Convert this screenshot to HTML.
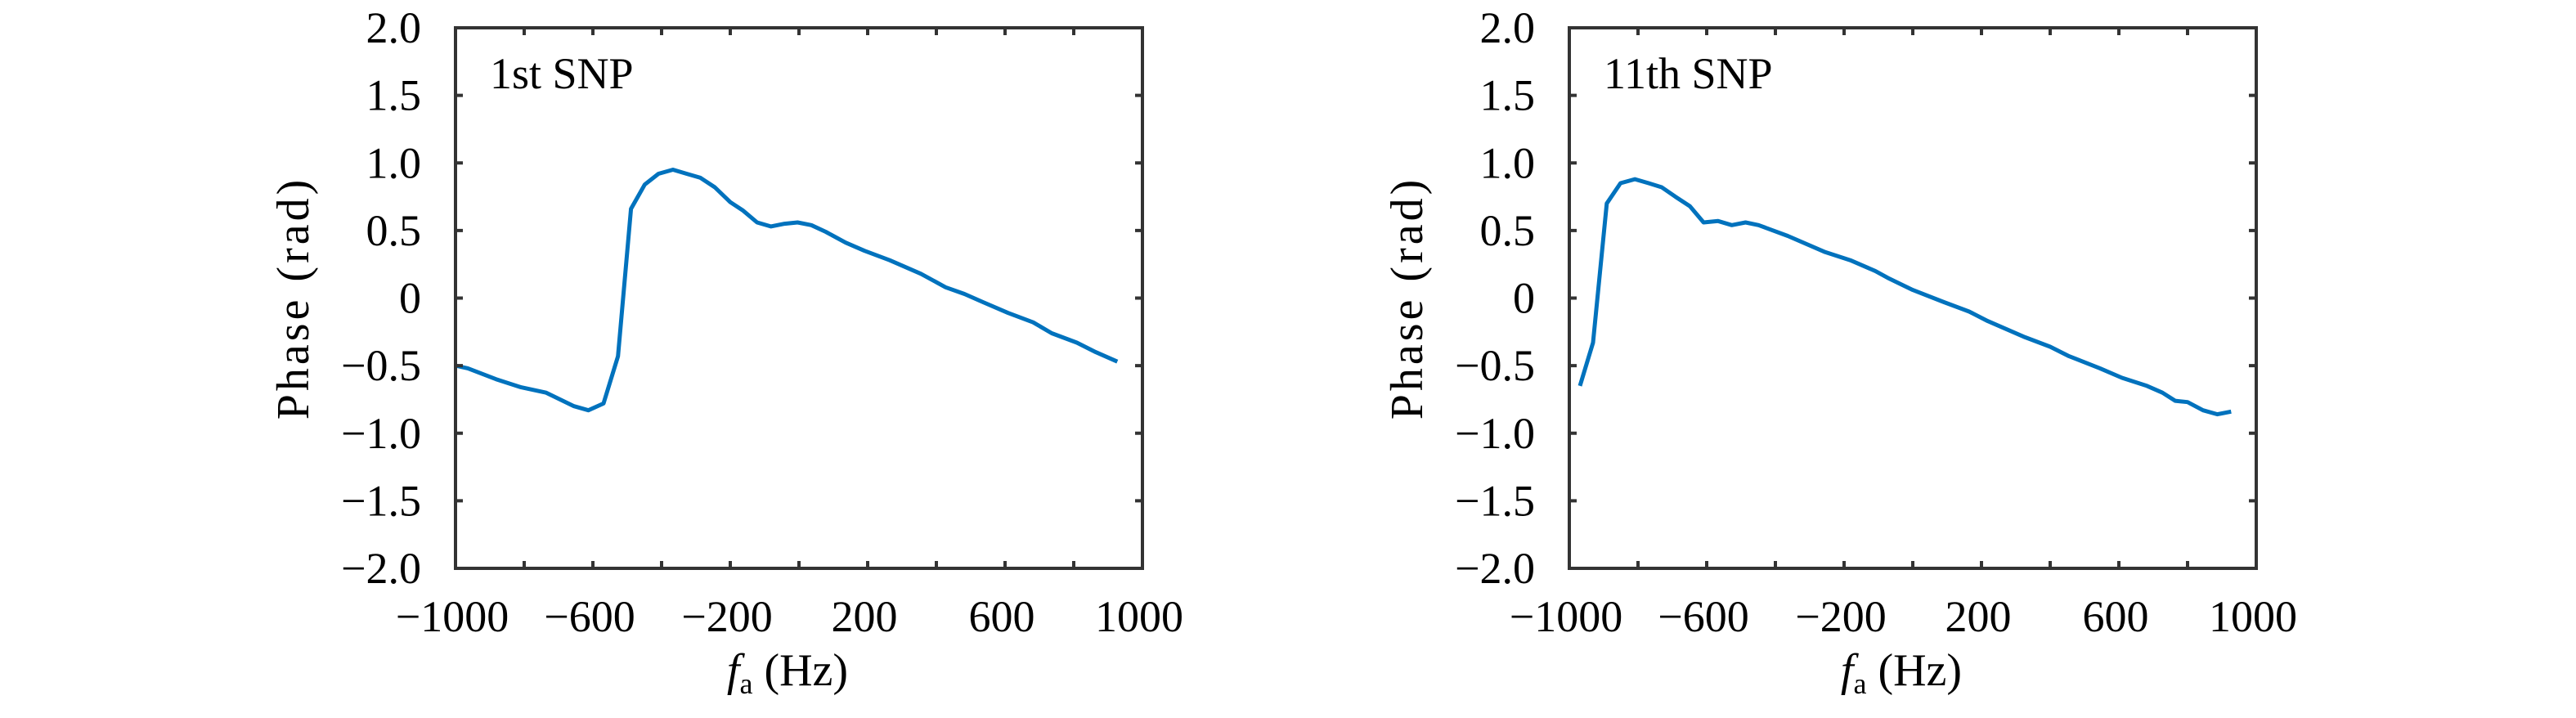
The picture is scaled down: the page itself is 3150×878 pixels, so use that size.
<!DOCTYPE html>
<html><head><meta charset="utf-8">
<style>
html,body{margin:0;padding:0;background:#fff;}
svg{display:block;}
text{font-family:"Liberation Serif",serif;fill:#000;}
</style></head>
<body>
<svg id="fig" width="3150" height="878" viewBox="0 0 3150 878" xmlns="http://www.w3.org/2000/svg"></svg>
<script>
const xTicks = [-1000, -600, -200, 200, 600, 1000];
const xMinor = [-1000,-800,-600,-400,-200,0,200,400,600,800,1000];
const yTicks = [2.0, 1.5, 1.0, 0.5, 0, -0.5, -1.0, -1.5, -2.0];
const yTickLabels = ["2.0","1.5","1.0","0.5","0","\u22120.5","\u22121.0","\u22121.5","\u22122.0"];
const xTickLabels = ["\u22121000","\u2212600","\u2212200","200","600","1000"];
const panelTitles = ["1st SNP","11th SNP"];

const freq1 = [-1000,-964,-882,-809,-736,-655,-613,-569,-527,-489,-449,-409,-367,-327,-287,-245,-200,-164,-122,-82,-42,-4,36,78,136,191,264,355,427,482,536,609,682,736,809,864,927];
const phase1 = [-0.50,-0.52,-0.60,-0.66,-0.70,-0.80,-0.83,-0.78,-0.43,0.66,0.84,0.92,0.95,0.92,0.89,0.82,0.71,0.65,0.56,0.53,0.55,0.56,0.54,0.49,0.41,0.35,0.28,0.18,0.08,0.03,-0.03,-0.11,-0.18,-0.26,-0.33,-0.40,-0.47];
const freq2 = [-969,-931,-891,-851,-809,-769,-731,-691,-649,-609,-567,-527,-487,-449,-364,-255,-182,-109,-73,0,91,164,218,327,400,455,545,609,682,727,764,800,845,887,927];
const phase2 = [-0.65,-0.33,0.70,0.85,0.88,0.85,0.82,0.75,0.68,0.56,0.57,0.54,0.56,0.54,0.46,0.34,0.28,0.20,0.15,0.06,-0.03,-0.10,-0.17,-0.29,-0.36,-0.43,-0.52,-0.59,-0.65,-0.70,-0.76,-0.77,-0.83,-0.86,-0.84];

const NS = "http://www.w3.org/2000/svg";
const svg = document.getElementById('fig');
function mk(tag, attrs, parent){ const e=document.createElementNS(NS,tag); for(const k in attrs) e.setAttribute(k,attrs[k]); (parent||svg).appendChild(e); return e; }

function panel(idx, left, freq, phase){
  const right = left+840, top = 34, bottom = 695;
  const sx = v => left + (v+1000)/2000*(right-left);
  const sy = v => top + (2-v)/4*(bottom-top);
  const g = mk('g',{});
  
  
  const pts = freq.map((f,i)=>sx(f).toFixed(1)+','+sy(phase[i]).toFixed(1)).join(' ');
  const line = mk('polyline',{points:pts,fill:'none',stroke:'#0072BD','stroke-width':5,'stroke-linejoin':'round'},g);
  
  
  const fr = mk('rect',{x:left,y:top,width:right-left,height:bottom-top,fill:'none',stroke:'#333','stroke-width':4},g);
  
  
  xMinor.forEach(v=>{
    mk('line',{x1:sx(v),x2:sx(v),y1:bottom,y2:bottom-9,stroke:'#333','stroke-width':4},g);
    mk('line',{x1:sx(v),x2:sx(v),y1:top,y2:top+9,stroke:'#333','stroke-width':4},g);
  });
  yTicks.forEach(v=>{
    mk('line',{x1:left,x2:left+9,y1:sy(v),y2:sy(v),stroke:'#333','stroke-width':4},g);
    mk('line',{x1:right,x2:right-9,y1:sy(v),y2:sy(v),stroke:'#333','stroke-width':4},g);
  });
  yTicks.forEach((v,i)=>{
    const t = mk('text',{x:left-42,y:sy(v)+18,'text-anchor':'end','font-size':54},g);
    t.textContent = yTickLabels[i];
    
    
  });
  xTicks.forEach((v,i)=>{
    const t = mk('text',{x:sx(v)-4,y:772,'text-anchor':'middle','font-size':54},g);
    t.textContent = xTickLabels[i];
    
    
  });
  const yl = mk('text',{x:0,y:0,'text-anchor':'middle','font-size':56,transform:`translate(${left-180},${(top+bottom)/2}) rotate(-90)`,'letter-spacing':'4'},g);
  yl.textContent = 'Phase (rad)';
  
  
  const xl = mk('text',{x:(left+right)/2-14,y:838,'text-anchor':'middle','font-size':56},g);
  xl.innerHTML = '<tspan font-style="italic">f</tspan><tspan font-size="36" dy="10">a</tspan><tspan dy="-10"> (Hz)</tspan>';
  
  
  const tt = mk('text',{x:left+42,y:108,'font-size':54},g);
  tt.textContent = panelTitles[idx];
  
  
}
panel(0, 557, freq1, phase1);
panel(1, 1919, freq2, phase2);
</script>
</body></html>
